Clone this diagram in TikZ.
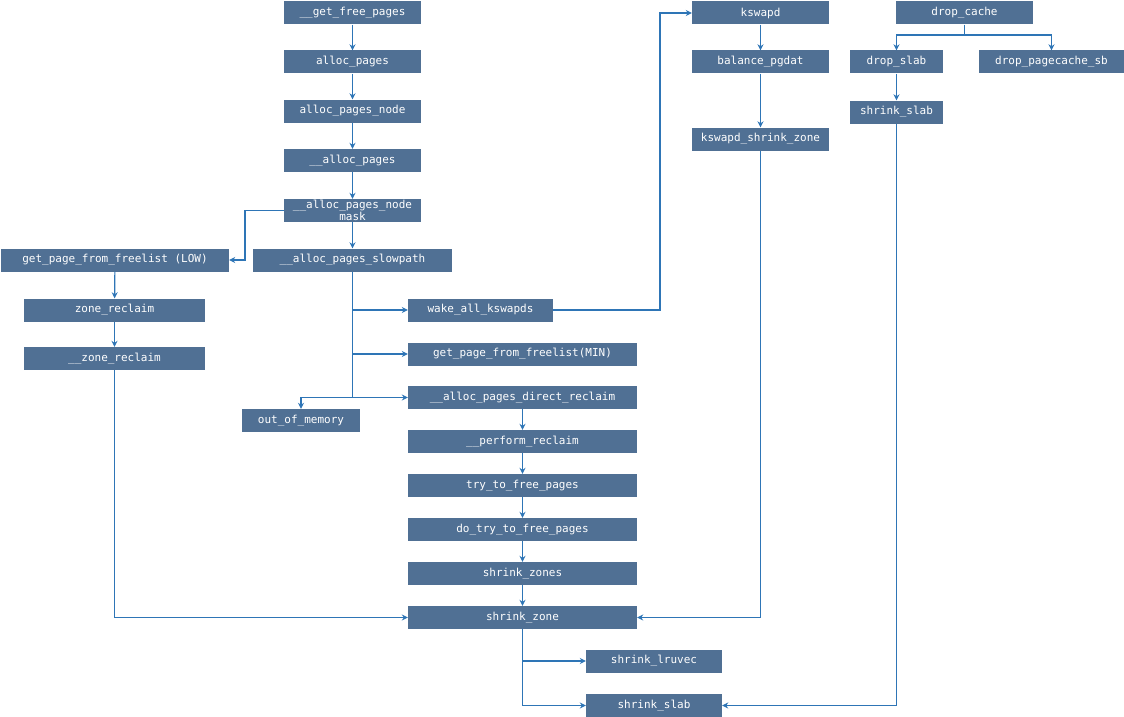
\documentclass[tikz,border=0pt]{standalone}
\usepackage{fontspec}
\setmonofont{DejaVu Sans Mono}
\usetikzlibrary{arrows.meta}
\definecolor{boxblue}{RGB}{80,112,148}
\definecolor{lineblue}{RGB}{46,117,182}
\tikzset{
  fn/.style={fill=boxblue, text=white, font=\ttfamily\fontsize{11}{11.5}\selectfont,
    minimum height=23pt, inner sep=0pt, align=center},
  link/.style={draw=lineblue, line width=1.2pt, -{Stealth[length=6pt,width=6pt]}}
}
\begin{document}
\begin{tikzpicture}[x=1pt,y=-1pt]
\useasboundingbox (0,0) rectangle (1124,717);

% allocation path
\node[fn,minimum width=137pt] (gfp)  at (352.5,13)    {\_\_get\_free\_pages};
\node[fn,minimum width=137pt] (ap)   at (352.5,62)    {alloc\_pages};
\node[fn,minimum width=137pt] (apn)  at (352.5,111)   {alloc\_pages\_node};
\node[fn,minimum width=137pt] (ap2)  at (352.5,160.5) {\_\_alloc\_pages};
\node[fn,minimum width=137pt] (apnm) at (352.5,210.5) {\_\_alloc\_pages\_node\\mask};
\node[fn,minimum width=199pt] (slow) at (352.5,260)   {\_\_alloc\_pages\_slowpath};

% fast path on the left
\node[fn,minimum width=228pt] (gpfl) at (115,260)   {get\_page\_from\_freelist (LOW)};
\node[fn,minimum width=181pt] (zr)   at (114.5,310) {zone\_reclaim};
\node[fn,minimum width=181pt] (zr2)  at (114.5,358.5) {\_\_zone\_reclaim};

% slow path
\node[fn,minimum width=145pt] (wake)    at (480.5,310)   {wake\_all\_kswapds};
\node[fn,minimum width=229pt] (gpfm)    at (522.5,354)   {get\_page\_from\_freelist(MIN)};
\node[fn,minimum width=229pt] (direct)  at (522.5,397.5) {\_\_alloc\_pages\_direct\_reclaim};
\node[fn,minimum width=118pt] (oom)     at (301,420.5)   {out\_of\_memory};
\node[fn,minimum width=229pt] (perform) at (522.5,441.5) {\_\_perform\_reclaim};
\node[fn,minimum width=229pt] (try)     at (522.5,485.5) {try\_to\_free\_pages};
\node[fn,minimum width=229pt] (dotry)   at (522.5,529.5) {do\_try\_to\_free\_pages};
\node[fn,minimum width=229pt] (szones)  at (522.5,573.5) {shrink\_zones};
\node[fn,minimum width=229pt] (szone)   at (522.5,617.5) {shrink\_zone};
\node[fn,minimum width=136pt] (lru)     at (654,661)     {shrink\_lruvec};
\node[fn,minimum width=136pt] (slab)    at (654,705.5)   {shrink\_slab};

% kswapd
\node[fn,minimum width=137pt] (kswapd)  at (760.5,13) {kswapd};
\node[fn,minimum width=137pt] (balance) at (760.5,62) {balance\_pgdat};
\node[fn,minimum width=137pt] (ksz)     at (760.5,139) {kswapd\_shrink\_zone};

% drop_cache
\node[fn,minimum width=137pt] (dc)    at (964.5,13)  {drop\_cache};
\node[fn,minimum width=93pt]  (dslab) at (896.5,62)  {drop\_slab};
\node[fn,minimum width=145pt] (dpsb)  at (1051.5,62) {drop\_pagecache\_sb};
\node[fn,minimum width=93pt]  (sslab) at (896.5,112) {shrink\_slab};

\coordinate (bendL) at (245,210.5);
\coordinate (bendK) at (660,310);
\coordinate (dcfork) at (964.5,35);

\foreach \a/\b in {gfp/ap,ap/apn,apn/ap2,ap2/apnm,apnm/slow,gpfl/zr,zr/zr2,
    direct/perform,perform/try,try/dotry,dotry/szones,szones/szone,
    kswapd/balance,balance/ksz,dslab/sslab}
    \draw[link] (\a) -- (\b);

\draw[link] (apnm.west) -- (bendL) |- (gpfl.east);
\foreach \b in {wake,gpfm,direct}
    \draw[link] (slow.south) |- (\b.west);
\draw[link] (slow.south |- direct.west) -| (oom.north);
\draw[link] (wake.east) -- (bendK) |- (kswapd.west);
\draw[link] (zr2.south) |- (szone.west);
\draw[link] (ksz.south) |- (szone.east);
\foreach \b in {lru,slab}
    \draw[link] (szone.south) |- (\b.west);
\draw[link] (dc.south) -- (dcfork) -| (dslab.north);
\draw[link] (dcfork) -| (dpsb.north);
\draw[link] (sslab.south) |- (slab.east);
\end{tikzpicture}
\end{document}
